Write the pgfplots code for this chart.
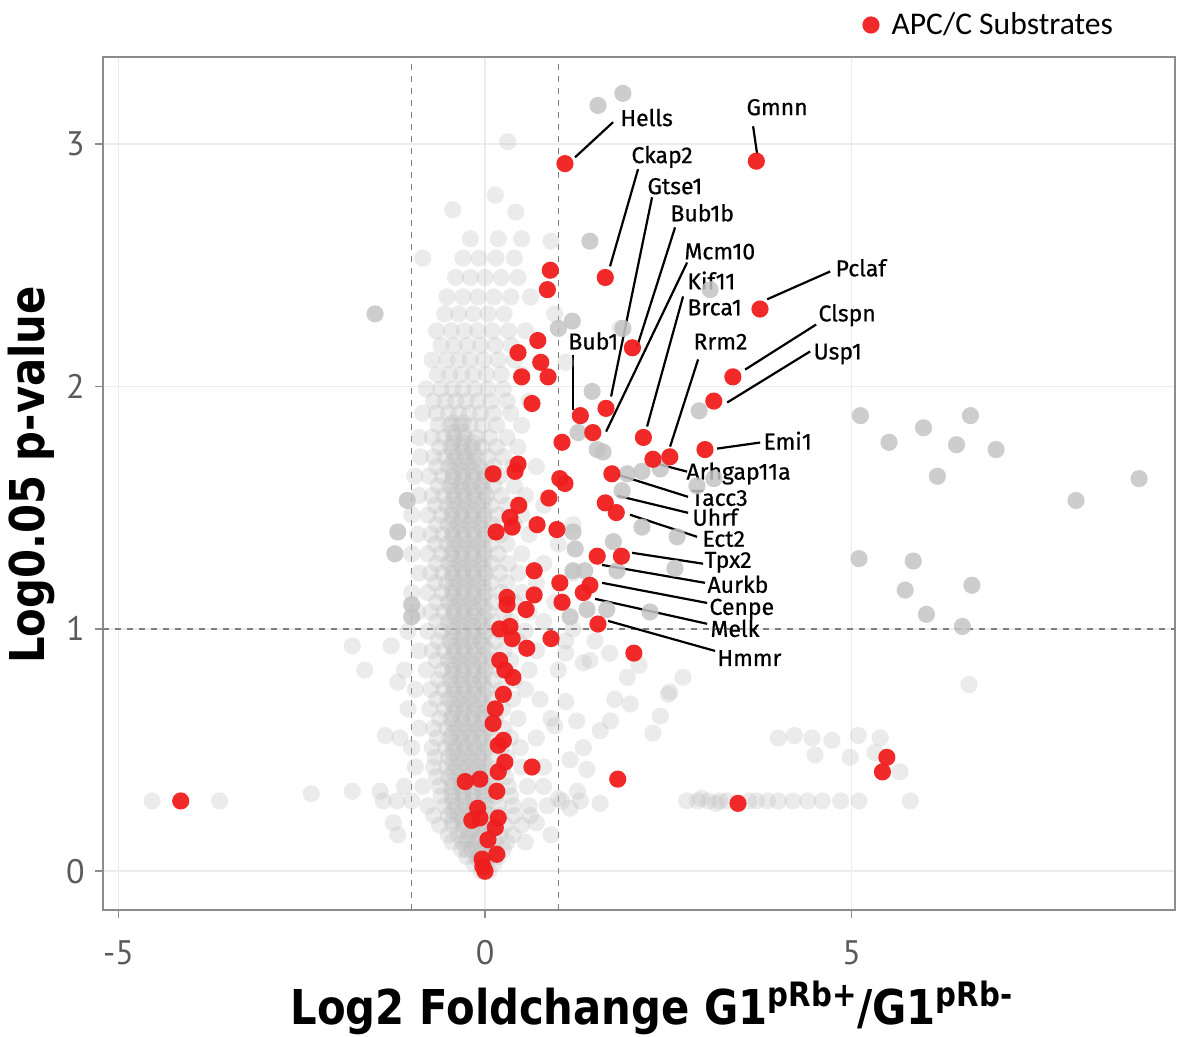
\documentclass[border=0pt]{standalone}
\usepackage{fontspec}
\usepackage{graphicx}
\usepackage{pgfplots}
\pgfplotsset{compat=1.18}
\newfontfamily\lblfont{Fira Sans}[FakeBold=0.6]
\newfontfamily\tickfont{PT Sans}
\newfontfamily\titlefont{DejaVu Sans}
\newfontfamily\legfont{Carlito}
\definecolor{apcred}{RGB}{240,30,30}
\definecolor{ptgray}{RGB}{188,188,188}
\definecolor{sgray}{RGB}{196,196,196}
\definecolor{axisgray}{RGB}{140,140,140}
\definecolor{gridgray}{RGB}{236,236,236}
\definecolor{tickgray}{RGB}{90,90,90}
\definecolor{dashgray}{RGB}{125,125,125}
\begin{document}
\begin{tikzpicture}
\useasboundingbox (-51.5pt,-63.5pt) rectangle (547.5pt,455pt);
\begin{axis}[
  at={(0pt,0pt)}, anchor=south west,
  scale only axis, width=536pt, height=426.5pt,
  xmin=-5.21, xmax=9.41, ymin=-0.16, ymax=3.36,
  xtick={-5,0,5}, xticklabels={-5,0,5},
  ytick={0,1,2,3}, yticklabels={0,1,2,3},
  tick align=outside, tick pos=left, major tick length=4pt,
  axis line style={draw=axisgray, line width=1pt},
  tick style={draw=axisgray, line width=0.8pt},
  grid=major, major grid style={draw=gridgray, line width=0.8pt},
  ticklabel style={font=\tickfont\fontsize{17}{17}\selectfont, text=tickgray},
  xticklabel style={inner sep=0pt, yshift=-11pt},
  yticklabel style={inner sep=0pt, xshift=-5pt},
  legend style={at={(0.708,1.0375)}, anchor=west, draw=none, fill=none,
    font=\legfont\fontsize{15.8}{16}\selectfont, inner sep=0pt, row sep=0pt,
    /tikz/every odd column/.append style={column sep=4pt}},
  legend cell align=left,
]
% faint gray points (main cloud)
\addplot[only marks, mark=*, mark size=4.3pt, color=ptgray, mark options={draw opacity=0, fill=ptgray, fill opacity=0.3}, forget plot] coordinates {
(-0.05,0.00)(0.05,0.00)
(-0.15,0.03)(0.0,0.03)(0.12,0.03)
(-0.25,0.06)(-0.1,0.06)(0.05,0.06)(0.18,0.06)
(-0.32,0.09)(-0.18,0.09)(-0.05,0.09)(0.1,0.09)(0.25,0.09)
(-0.45,0.12)(-0.3,0.12)(-0.15,0.12)(0.0,0.12)(0.14,0.12)(0.3,0.12)
(-0.5,0.15)(-0.36,0.15)(-0.22,0.15)(-0.08,0.15)(0.06,0.15)(0.2,0.15)(0.38,0.15)
(-0.62,0.19)(-0.44,0.19)(-0.3,0.19)(-0.16,0.19)(-0.02,0.19)(0.12,0.19)(0.28,0.19)(0.5,0.19)
(-0.7,0.23)(-0.5,0.23)(-0.36,0.23)(-0.22,0.23)(-0.08,0.23)(0.06,0.23)(0.2,0.23)(0.4,0.23)(0.62,0.23)
(-0.78,0.27)(-0.55,0.27)(-0.4,0.27)(-0.26,0.27)(-0.12,0.27)(0.02,0.27)(0.18,0.27)(0.38,0.27)(0.6,0.27)(0.85,0.27)
(1.05,0.29)(1.3,0.29)(-1.0,0.29)(-1.2,0.29)
(-0.6,0.31)(-0.45,0.31)(-0.3,0.31)(-0.16,0.31)(-0.02,0.31)(0.14,0.31)(0.35,0.31)
(-0.85,0.35)(-0.62,0.35)(-0.46,0.35)(-0.32,0.35)(-0.18,0.35)(-0.04,0.35)(0.12,0.35)(0.32,0.35)(0.58,0.35)
(-0.66,0.39)(-0.5,0.39)(-0.36,0.39)(-0.22,0.39)(-0.08,0.39)(0.08,0.39)(0.28,0.39)
(-0.95,0.43)(-0.7,0.43)(-0.52,0.43)(-0.38,0.43)(-0.24,0.43)(-0.1,0.43)(0.05,0.43)(0.25,0.43)(0.5,0.43)(0.8,0.43)
(-0.68,0.47)(-0.5,0.47)(-0.36,0.47)(-0.22,0.47)(-0.08,0.47)(0.08,0.47)(0.3,0.47)
(-1.0,0.51)(-0.72,0.51)(-0.54,0.51)(-0.4,0.51)(-0.26,0.51)(-0.12,0.51)(0.04,0.51)(0.22,0.51)(0.48,0.51)
(-0.65,0.55)(-0.48,0.55)(-0.34,0.55)(-0.2,0.55)(-0.06,0.55)(0.1,0.55)(0.35,0.55)(0.7,0.55)
(-0.9,0.59)(-0.7,0.59)(-0.52,0.59)(-0.38,0.59)(-0.24,0.59)(-0.1,0.59)(0.06,0.59)(0.26,0.59)
(-0.62,0.63)(-0.46,0.63)(-0.32,0.63)(-0.18,0.63)(-0.04,0.63)(0.14,0.63)(0.45,0.63)(0.9,0.63)
(-1.05,0.67)(-0.75,0.67)(-0.55,0.67)(-0.4,0.67)(-0.26,0.67)(-0.12,0.67)(0.04,0.67)(0.24,0.67)
(-0.66,0.71)(-0.5,0.71)(-0.36,0.71)(-0.22,0.71)(-0.08,0.71)(0.1,0.71)(0.38,0.71)(0.75,0.71)
(-0.95,0.75)(-0.74,0.75)(-0.56,0.75)(-0.42,0.75)(-0.28,0.75)(-0.14,0.75)(0.02,0.75)(0.22,0.75)(0.55,0.75)
(-0.64,0.79)(-0.48,0.79)(-0.34,0.79)(-0.2,0.79)(-0.06,0.79)(0.12,0.79)(0.4,0.79)
(-1.1,0.83)(-0.8,0.83)(-0.58,0.83)(-0.44,0.83)(-0.3,0.83)(-0.16,0.83)(0.0,0.83)(0.2,0.83)(0.6,0.83)(1.0,0.83)
(-0.66,0.87)(-0.5,0.87)(-0.36,0.87)(-0.22,0.87)(-0.08,0.87)(0.1,0.87)(0.35,0.87)
(-0.9,0.91)(-0.72,0.91)(-0.56,0.91)(-0.42,0.91)(-0.28,0.91)(-0.14,0.91)(0.04,0.91)(0.26,0.91)(0.7,0.91)
(-0.64,0.95)(-0.48,0.95)(-0.34,0.95)(-0.2,0.95)(-0.06,0.95)(0.14,0.95)(0.45,0.95)(1.1,0.95)
(-1.05,0.99)(-0.78,0.99)(-0.58,0.99)(-0.44,0.99)(-0.3,0.99)(-0.16,0.99)(0.0,0.99)(0.2,0.99)(0.55,0.99)
(-0.66,1.03)(-0.5,1.03)(-0.36,1.03)(-0.22,1.03)(-0.08,1.03)(0.1,1.03)(0.35,1.03)(0.8,1.03)
(-0.92,1.07)(-0.74,1.07)(-0.56,1.07)(-0.42,1.07)(-0.28,1.07)(-0.14,1.07)(0.04,1.07)(0.26,1.07)(0.6,1.07)
(-0.66,1.11)(-0.5,1.11)(-0.36,1.11)(-0.22,1.11)(-0.08,1.11)(0.12,1.11)(0.4,1.11)(0.95,1.11)
(-1.0,1.15)(-0.78,1.15)(-0.58,1.15)(-0.44,1.15)(-0.3,1.15)(-0.16,1.15)(0.0,1.15)(0.22,1.15)(0.5,1.15)
(-0.68,1.19)(-0.52,1.19)(-0.38,1.19)(-0.24,1.19)(-0.1,1.19)(0.08,1.19)(0.3,1.19)(0.7,1.19)
(-0.9,1.23)(-0.74,1.23)(-0.58,1.23)(-0.44,1.23)(-0.3,1.23)(-0.16,1.23)(0.0,1.23)(0.2,1.23)(0.45,1.23)(1.2,1.23)
(-0.66,1.27)(-0.5,1.27)(-0.36,1.27)(-0.22,1.27)(-0.08,1.27)(0.1,1.27)(0.32,1.27)(0.8,1.27)
(-1.0,1.31)(-0.78,1.31)(-0.6,1.31)(-0.46,1.31)(-0.32,1.31)(-0.18,1.31)(-0.02,1.31)(0.18,1.31)(0.5,1.31)
(-0.68,1.35)(-0.52,1.35)(-0.38,1.35)(-0.24,1.35)(-0.1,1.35)(0.08,1.35)(0.3,1.35)(1.0,1.35)
(-0.92,1.39)(-0.74,1.39)(-0.58,1.39)(-0.44,1.39)(-0.3,1.39)(-0.16,1.39)(0.0,1.39)(0.22,1.39)(0.6,1.39)
(-0.66,1.43)(-0.5,1.43)(-0.36,1.43)(-0.22,1.43)(-0.08,1.43)(0.1,1.43)(0.4,1.43)(1.2,1.43)
(-1.0,1.47)(-0.78,1.47)(-0.6,1.47)(-0.46,1.47)(-0.32,1.47)(-0.18,1.47)(-0.02,1.47)(0.18,1.47)(0.5,1.47)
(-0.68,1.51)(-0.52,1.51)(-0.38,1.51)(-0.24,1.51)(-0.1,1.51)(0.08,1.51)(0.3,1.51)(0.8,1.51)
(-0.9,1.55)(-0.72,1.55)(-0.56,1.55)(-0.42,1.55)(-0.28,1.55)(-0.14,1.55)(0.02,1.55)(0.22,1.55)(0.55,1.55)
(-0.64,1.59)(-0.48,1.59)(-0.34,1.59)(-0.2,1.59)(-0.06,1.59)(0.12,1.59)(0.4,1.59)
(-0.96,1.63)(-0.76,1.63)(-0.58,1.63)(-0.44,1.63)(-0.3,1.63)(-0.16,1.63)(0.0,1.63)(0.2,1.63)
(-0.66,1.67)(-0.5,1.67)(-0.36,1.67)(-0.22,1.67)(-0.08,1.67)(0.12,1.67)(0.38,1.67)(0.7,1.67)
(-0.88,1.71)(-0.7,1.71)(-0.54,1.71)(-0.4,1.71)(-0.26,1.71)(-0.12,1.71)(0.04,1.71)(0.25,1.71)
(-0.62,1.75)(-0.46,1.75)(-0.32,1.75)(-0.18,1.75)(-0.04,1.75)(0.16,1.75)(0.45,1.75)
(-0.9,1.79)(-0.72,1.79)(-0.56,1.79)(-0.42,1.79)(-0.28,1.79)(-0.12,1.79)(0.06,1.79)(0.3,1.79)
(-0.64,1.84)(-0.48,1.84)(-0.34,1.84)(-0.2,1.84)(-0.04,1.84)(0.16,1.84)(0.5,1.84)
(-0.85,1.89)(-0.66,1.89)(-0.5,1.89)(-0.36,1.89)(-0.22,1.89)(-0.06,1.89)(0.12,1.89)(0.35,1.89)
(-0.7,1.94)(-0.54,1.94)(-0.4,1.94)(-0.26,1.94)(-0.1,1.94)(0.08,1.94)(0.3,1.94)(0.6,1.94)
(-0.8,1.99)(-0.6,1.99)(-0.44,1.99)(-0.3,1.99)(-0.14,1.99)(0.04,1.99)(0.25,1.99)
(-0.65,2.05)(-0.48,2.05)(-0.32,2.05)(-0.16,2.05)(0.02,2.05)(0.22,2.05)(0.5,2.05)
(-0.72,2.11)(-0.52,2.11)(-0.36,2.11)(-0.2,2.11)(-0.02,2.11)(0.18,2.11)(0.4,2.11)
(-0.6,2.17)(-0.42,2.17)(-0.24,2.17)(-0.06,2.17)(0.14,2.17)(0.36,2.17)
(-0.66,2.23)(-0.46,2.23)(-0.28,2.23)(-0.1,2.23)(0.1,2.23)(0.32,2.23)(0.55,2.23)
(-0.55,2.30)(-0.36,2.30)(-0.16,2.30)(0.04,2.30)(0.26,2.30)
(-0.52,2.37)(-0.3,2.37)(-0.1,2.37)(0.12,2.37)(0.35,2.37)(0.62,2.37)
(-0.4,2.45)(-0.2,2.45)(0.0,2.45)(0.22,2.45)(0.45,2.45)
(-0.85,2.53)(-0.3,2.53)(-0.08,2.53)(0.15,2.53)(0.4,2.53)
(-0.2,2.61)(0.18,2.61)(0.5,2.61)
(-0.44,2.73)(0.42,2.72)(0.14,2.79)(0.31,3.01)(0.9,2.6)(1.84,2.24)(0.95,2.3)(1.1,2.1)
(-4.54,0.29)(-3.62,0.29)(-2.37,0.32)(-1.81,0.33)(-1.43,0.33)(-1.39,0.29)(-1.16,0.55)(-1.81,0.93)(-1.28,0.93)(-1.64,0.83)(-1.19,0.78)(-1.36,0.56)(-1.19,0.15)(-1.1,0.35)(-1.25,0.2)
(2.75,0.29)(2.9,0.29)(3.05,0.29)(3.2,0.29)(3.3,0.29)(3.6,0.29)(3.7,0.29)(3.85,0.29)(4.0,0.29)(4.2,0.29)(4.4,0.29)(4.6,0.29)(4.85,0.29)(5.1,0.29)(5.8,0.29)(2.95,0.30)(3.15,0.28)
(4.22,0.56)(4.46,0.55)(4.73,0.54)(5.09,0.56)(5.39,0.55)(4.50,0.48)(4.98,0.47)(5.32,0.49)(5.66,0.41)(6.60,0.77)(4.0,0.55)
(1.34,0.86)(1.43,0.87)(1.94,0.80)(1.98,0.69)(1.71,0.62)(1.77,0.71)(1.57,0.58)(1.34,0.51)(1.16,0.46)(2.39,0.64)(2.29,0.57)(2.52,0.74)(2.70,0.80)(1.39,0.42)(1.26,0.33)(1.16,0.26)(1.57,0.28)(2.5,0.73)(1.1,0.7)(1.25,0.62)(1.5,0.95)(1.7,0.9)(1.1,0.9)(0.95,0.6)(1.2,1.0)(2.1,0.85)
(0.7,0.2)(0.9,0.15)(1.0,0.3)(0.8,0.35)(0.55,0.12)
};
% dense core of the cloud
\addplot[only marks, mark=*, mark size=4.3pt, color=ptgray, mark options={draw opacity=0, fill=ptgray, fill opacity=0.3}, forget plot] coordinates {
(-0.1,0.05)(0.02,0.05)
(-0.25,0.09)(-0.1,0.09)(0.04,0.09)
(-0.25,0.13)(-0.1,0.13)(0.04,0.13)
(-0.3,0.17)(-0.16,0.17)(-0.02,0.17)
(-0.44,0.21)(-0.3,0.21)(-0.16,0.21)(-0.02,0.21)
(-0.44,0.25)(-0.3,0.25)(-0.16,0.25)(-0.02,0.25)
(-0.44,0.29)(-0.3,0.29)(-0.16,0.29)(-0.02,0.29)
(-0.44,0.33)(-0.3,0.33)(-0.16,0.33)(-0.02,0.33)
(-0.44,0.37)(-0.3,0.37)(-0.16,0.37)(-0.02,0.37)
(-0.44,0.41)(-0.3,0.41)(-0.16,0.41)(-0.02,0.41)
(-0.44,0.45)(-0.3,0.45)(-0.16,0.45)(-0.02,0.45)
(-0.44,0.49)(-0.3,0.49)(-0.16,0.49)(-0.02,0.49)
(-0.44,0.53)(-0.3,0.53)(-0.16,0.53)(-0.02,0.53)
(-0.44,0.57)(-0.3,0.57)(-0.16,0.57)(-0.02,0.57)
(-0.44,0.61)(-0.3,0.61)(-0.16,0.61)(-0.02,0.61)
(-0.44,0.65)(-0.3,0.65)(-0.16,0.65)(-0.02,0.65)
(-0.44,0.69)(-0.3,0.69)(-0.16,0.69)(-0.02,0.69)
(-0.44,0.73)(-0.3,0.73)(-0.16,0.73)(-0.02,0.73)
(-0.44,0.77)(-0.3,0.77)(-0.16,0.77)(-0.02,0.77)
(-0.44,0.81)(-0.3,0.81)(-0.16,0.81)(-0.02,0.81)
(-0.44,0.85)(-0.3,0.85)(-0.16,0.85)(-0.02,0.85)
(-0.44,0.89)(-0.3,0.89)(-0.16,0.89)(-0.02,0.89)
(-0.44,0.93)(-0.3,0.93)(-0.16,0.93)(-0.02,0.93)
(-0.44,0.97)(-0.3,0.97)(-0.16,0.97)(-0.02,0.97)
(-0.44,1.01)(-0.3,1.01)(-0.16,1.01)(-0.02,1.01)
(-0.44,1.05)(-0.3,1.05)(-0.16,1.05)(-0.02,1.05)
(-0.44,1.09)(-0.3,1.09)(-0.16,1.09)(-0.02,1.09)
(-0.44,1.13)(-0.3,1.13)(-0.16,1.13)(-0.02,1.13)
(-0.44,1.17)(-0.3,1.17)(-0.16,1.17)(-0.02,1.17)
(-0.44,1.21)(-0.3,1.21)(-0.16,1.21)(-0.02,1.21)
(-0.44,1.25)(-0.3,1.25)(-0.16,1.25)(-0.02,1.25)
(-0.44,1.29)(-0.3,1.29)(-0.16,1.29)(-0.02,1.29)
(-0.44,1.33)(-0.3,1.33)(-0.16,1.33)(-0.02,1.33)
(-0.44,1.37)(-0.3,1.37)(-0.16,1.37)(-0.02,1.37)
(-0.44,1.41)(-0.3,1.41)(-0.16,1.41)(-0.02,1.41)
(-0.44,1.45)(-0.3,1.45)(-0.16,1.45)(-0.02,1.45)
(-0.44,1.49)(-0.3,1.49)(-0.16,1.49)(-0.02,1.49)
(-0.44,1.53)(-0.3,1.53)(-0.16,1.53)(-0.02,1.53)
(-0.44,1.57)(-0.3,1.57)(-0.16,1.57)(-0.02,1.57)
(-0.44,1.61)(-0.3,1.61)(-0.16,1.61)(-0.02,1.61)
(-0.44,1.65)(-0.3,1.65)(-0.16,1.65)(-0.02,1.65)
(-0.44,1.69)(-0.3,1.69)(-0.16,1.69)
(-0.44,1.73)(-0.3,1.73)(-0.16,1.73)
(-0.44,1.77)(-0.3,1.77)(-0.16,1.77)
(-0.44,1.81)(-0.3,1.81)
(-0.44,1.85)(-0.3,1.85)
};
% darker gray points (significant)
\addplot[only marks, mark=*, mark size=4.3pt, color=sgray, mark options={draw opacity=0, fill=sgray, fill opacity=0.85}, forget plot] coordinates {
(1.88,3.21)(1.54,3.16)(1.43,2.60)(-1.50,2.30)(1.19,2.27)(1.00,2.24)(1.88,2.24)(3.07,2.40)(2.92,1.90)(2.39,1.66)(3.12,1.62)(2.89,1.59)(2.62,1.38)(2.59,1.25)(2.25,1.07)
(5.12,1.88)(6.62,1.88)(5.98,1.83)(5.51,1.77)(6.43,1.76)(6.97,1.74)(6.17,1.63)(8.92,1.62)(8.06,1.53)(5.10,1.29)(5.84,1.28)(5.73,1.16)(6.64,1.18)(6.02,1.06)(6.51,1.01)
(-1.06,1.53)(-1.19,1.40)(-1.23,1.31)(-1.00,1.10)(-1.00,1.05)
(1.46,1.98)(1.27,1.81)(1.53,1.74)(1.61,1.73)(1.94,1.64)(1.87,1.57)(2.14,1.65)(2.14,1.42)(1.20,1.40)(1.75,1.36)(1.23,1.33)(1.20,1.24)(1.36,1.24)(1.80,1.24)(1.16,1.05)(1.39,1.08)(1.66,1.08)
};
% reference lines
\draw[dashgray, line width=0.7pt, dash pattern=on 3pt off 3pt] (axis cs:-1,-0.16) -- (axis cs:-1,3.36);
\draw[dashgray, line width=0.7pt, dash pattern=on 3pt off 3pt] (axis cs:1,-0.16) -- (axis cs:1,3.36);
\draw[dashgray, line width=0.7pt, dash pattern=on 3pt off 3pt] (axis cs:-5.21,1) -- (axis cs:9.41,1);
% APC/C substrates
\addplot[only marks, mark=*, mark size=4.3pt, color=apcred, mark options={draw opacity=0, fill=apcred, fill opacity=0.95}] coordinates {
(1.09,2.92)(3.70,2.93)(1.64,2.45)(0.89,2.48)(0.85,2.40)(3.75,2.32)(2.01,2.16)(0.72,2.19)(0.45,2.14)(0.76,2.10)(0.50,2.04)(0.86,2.04)(0.64,1.93)(3.38,2.04)(3.12,1.94)(1.30,1.88)(1.65,1.91)(1.47,1.81)(1.05,1.77)(2.16,1.79)(2.29,1.70)(2.52,1.71)(3.00,1.74)(0.11,1.64)(0.41,1.65)(0.45,1.68)(1.02,1.62)(1.09,1.60)(1.73,1.64)(0.87,1.54)(0.46,1.51)(1.64,1.52)(1.79,1.48)(0.34,1.46)(0.37,1.42)(0.15,1.40)(0.71,1.43)(0.98,1.41)(0.67,1.24)(1.02,1.19)(1.05,1.11)(1.53,1.30)(1.86,1.30)(1.43,1.18)(1.34,1.15)(0.30,1.13)(0.30,1.10)(0.67,1.14)(0.56,1.08)(0.20,1.00)(0.34,1.01)(0.37,0.96)(0.90,0.96)(0.57,0.92)(1.54,1.02)(2.03,0.90)(0.20,0.87)(0.27,0.83)(0.38,0.80)(0.25,0.73)(0.14,0.67)(0.11,0.61)(0.25,0.54)(0.18,0.52)(0.27,0.45)(0.18,0.41)(0.64,0.43)(1.81,0.38)(-0.27,0.37)(-0.07,0.38)(0.16,0.33)(-0.10,0.26)(-0.18,0.21)(-0.07,0.22)(0.18,0.22)(0.14,0.18)(0.04,0.13)(0.16,0.07)(-0.04,0.05)(0.00,0.00)(-0.03,0.02)(-4.15,0.29)(3.45,0.28)(5.48,0.47)(5.42,0.41)
};
\addlegendentry{APC/C Substrates}
% leader lines
\begin{scope}[black, line width=1.1pt]
\draw (axis cs:1.228,2.946) -- (axis cs:1.746,3.091);
\draw (axis cs:3.656,3.074) -- (axis cs:3.711,2.959);
\draw (axis cs:2.087,2.897) -- (axis cs:1.705,2.496);
\draw (axis cs:2.278,2.781) -- (axis cs:1.719,1.959);
\draw (axis cs:2.592,2.657) -- (axis cs:2.074,2.165);
\draw (axis cs:2.756,2.512) -- (axis cs:1.651,1.814);
\draw (axis cs:2.701,2.372) -- (axis cs:2.210,1.835);
\draw (axis cs:2.906,2.112) -- (axis cs:2.524,1.752);
\draw (axis cs:4.707,2.475) -- (axis cs:3.847,2.360);
\draw (axis cs:4.516,2.256) -- (axis cs:3.547,2.070);
\draw (axis cs:4.434,2.145) -- (axis cs:3.302,1.934);
\draw (axis cs:1.201,2.132) -- (axis cs:1.201,1.905);
\draw (axis cs:3.165,1.744) -- (axis cs:3.752,1.769);
\draw (axis cs:2.387,1.678) -- (axis cs:2.756,1.649);
\draw (axis cs:1.814,1.636) -- (axis cs:2.769,1.545);
\draw (axis cs:1.801,1.550) -- (axis cs:2.769,1.479);
\draw (axis cs:1.978,1.471) -- (axis cs:2.892,1.380);
\draw (axis cs:2.005,1.314) -- (axis cs:2.974,1.269);
\draw (axis cs:1.596,1.264) -- (axis cs:3.001,1.190);
\draw (axis cs:1.596,1.190) -- (axis cs:3.029,1.107);
\draw (axis cs:1.501,1.124) -- (axis cs:3.029,1.021);
\draw (axis cs:1.678,1.033) -- (axis cs:3.138,0.909);
\end{scope}
\begin{scope}[every node/.style={anchor=base west, inner sep=0pt, font=\lblfont\fontsize{11.5}{11.5}\selectfont, text=black}]
\node at (axis cs:1.842,3.075) {Hells};
\node at (axis cs:3.561,3.120) {Gmnn};
\node at (axis cs:1.992,2.922) {Ckap2};
\node at (axis cs:2.210,2.794) {Gtse1};
\node at (axis cs:2.524,2.682) {Bub1b};
\node at (axis cs:2.715,2.525) {Mcm10};
\node at (axis cs:2.756,2.401) {Kif11};
\node at (axis cs:2.756,2.294) {Brca1};
\node at (axis cs:2.838,2.153) {Rrm2};
\node at (axis cs:4.775,2.455) {Pclaf};
\node at (axis cs:4.543,2.269) {Clspn};
\node at (axis cs:4.475,2.112) {Usp1};
\node at (axis cs:1.132,2.153) {Bub1};
\node at (axis cs:3.793,1.740) {Emi1};
\node at (axis cs:2.742,1.616) {Arhgap11a};
\node at (axis cs:2.810,1.508) {Tacc3};
\node at (axis cs:2.824,1.426) {Uhrf};
\node at (axis cs:2.960,1.339) {Ect2};
\node at (axis cs:2.988,1.252) {Tpx2};
\node at (axis cs:3.029,1.149) {Aurkb};
\node at (axis cs:3.056,1.058) {Cenpe};
\node at (axis cs:3.070,0.967) {Melk};
\node at (axis cs:3.165,0.847) {Hmmr};
\end{scope}
\end{axis}
\node[anchor=base, inner sep=0pt] at (274.5pt,-57.5pt) {\scalebox{0.87}[1]{\titlefont\bfseries\fontsize{24}{24}\selectfont Log2 Foldchange G1\textsuperscript{pRb+}/G1\textsuperscript{pRb-}}};
\node[anchor=base, inner sep=0pt, rotate=90] at (-29pt,217.5pt) {\scalebox{0.87}[1]{\titlefont\bfseries\fontsize{24}{24}\selectfont Log0.05 p-value}};
\end{tikzpicture}
\end{document}
